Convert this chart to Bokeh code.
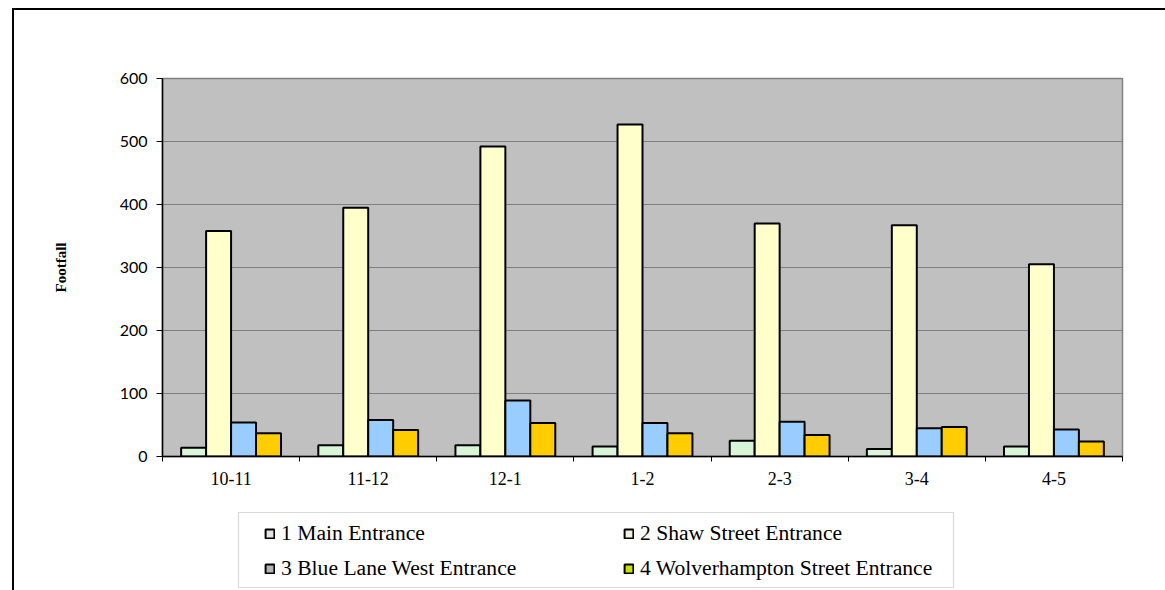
from bokeh.plotting import figure
from bokeh.layouts import column
from bokeh.models import FixedTicker, Legend, LegendItem, Range1d, BoxAnnotation
from bokeh.embed import file_html
from bokeh.resources import INLINE

periods = ["10-11", "11-12", "12-1", "1-2", "2-3", "3-4", "4-5"]
series_names = ["1 Main Entrance", "2 Shaw Street Entrance",
                "3 Blue Lane West Entrance", "4 Wolverhampton Street Entrance"]
main_entrance = [14, 18, 18, 16, 25, 12, 16]
shaw_street = [358, 395, 492, 527, 370, 367, 305]
blue_lane_west = [54, 58, 89, 53, 55, 45, 43]
wolverhampton_street = [37, 42, 53, 37, 34, 47, 24]
y_ticks = [0, 100, 200, 300, 400, 500, 600]

series = [main_entrance, shaw_street, blue_lane_west, wolverhampton_street]
colors = ["#d8f5d8", "#ffffcc", "#99ccff", "#ffcc00"]
legend_colors = ["#e4e4e4", "#f0f0dc", "#b4b4b4", "#c8e000"]

SERIF = "'Liberation Serif', 'Times New Roman', serif"
SANS = "Lato"
OX, OY = 14, 10  # offset of content inside the outer frame
W = 1165 - OX
H_MAIN = 505 - OY
H_LEG = 590 - 505
FRAME_L, FRAME_R = 162, 1122

p = figure(width=W, height=H_MAIN, output_backend="svg", toolbar_location=None,
           x_range=Range1d(0, len(periods)), y_range=Range1d(0, 600),
           min_border_left=FRAME_L - OX, min_border_right=1165 - FRAME_R,
           min_border_top=78 - OY, min_border_bottom=505 - 456)
p.background_fill_color = "#c0c0c0"
p.border_fill_color = "white"
p.outline_line_color = "#808080"
p.outline_line_width = 1.5

bw = 0.182
offsets = [-1.5 * bw, -0.5 * bw, 0.5 * bw, 1.5 * bw]
for vals, col, off in zip(series, colors, offsets):
    xs = [i + 0.5 + off for i in range(len(periods))]
    p.vbar(x=xs, top=vals, width=bw, bottom=0, fill_color=col,
           line_color="black", line_width=2)

p.xaxis.ticker = FixedTicker(ticks=[i + 0.5 for i in range(len(periods))],
                             minor_ticks=list(range(len(periods) + 1)))
p.xaxis.major_label_overrides = {i + 0.5: lab for i, lab in enumerate(periods)}
p.xaxis.major_tick_line_color = None
p.xaxis.minor_tick_line_color = "black"
p.xaxis.minor_tick_out = 5
p.xaxis.minor_tick_in = 0
p.xaxis.axis_line_color = "black"
p.xaxis.axis_line_width = 1.5
p.xaxis.major_label_text_font = SERIF
p.xaxis.major_label_text_font_size = "18px"
p.xaxis.major_label_text_color = "black"
p.xaxis.major_label_standoff = 9

p.yaxis.ticker = FixedTicker(ticks=y_ticks)
p.yaxis.minor_tick_line_color = None
p.yaxis.major_tick_out = 6
p.yaxis.major_tick_in = 0
p.yaxis.axis_line_color = "black"
p.yaxis.axis_line_width = 1.5
p.yaxis.major_label_text_font = SANS
p.yaxis.major_label_text_font_size = "16px"
p.yaxis.major_label_text_color = "black"
p.yaxis.major_label_standoff = 9
p.yaxis.axis_label = "Footfall"
p.yaxis.axis_label_text_font = SERIF
p.yaxis.axis_label_text_font_size = "15px"
p.yaxis.axis_label_text_font_style = "bold"
p.yaxis.axis_label_text_color = "black"
p.yaxis.axis_label_standoff = 48

p.xgrid.grid_line_color = None
p.ygrid.grid_line_color = "#808080"
p.ygrid.grid_line_width = 1.2

# legend figure: its frame is aligned with the chart frame, ranges in canvas px
q = figure(width=W, height=H_LEG, output_backend="svg", toolbar_location=None,
           x_range=Range1d(FRAME_L, FRAME_R), y_range=Range1d(0, H_LEG),
           x_axis_type=None, y_axis_type=None, min_border=0)
q.outline_line_color = None
q.background_fill_color = "white"
q.border_fill_color = "white"
q.grid.grid_line_color = None
q.add_layout(BoxAnnotation(left=238, right=953, bottom=3, top=78,
                           fill_color="white", fill_alpha=1,
                           line_color="#808080", line_width=1.2))
dummy = []
for lc in legend_colors:
    dummy.append(q.quad(left=[-20], right=[-10], bottom=[-20], top=[-10],
                        fill_color=lc, line_color="black", line_width=2))
items = [LegendItem(label=n, renderers=[d]) for n, d in zip(series_names, dummy)]
for idx, x0 in ((0, 264), (1, 623)):
    lg = Legend(items=[items[idx], items[idx + 2]], location=(x0 - FRAME_L, 9),
                label_text_font=SERIF, label_text_font_size="21.6px",
                label_text_color="black",
                glyph_width=11, glyph_height=11, label_standoff=6,
                spacing=9, padding=0, margin=0,
                border_line_color=None, background_fill_alpha=0,
                label_height=26)
    q.add_layout(lg, "center")

layout = column(p, q, spacing=0,
                styles={"margin-left": "12px", "margin-top": "8px",
                        "border-left": "2.5px solid black",
                        "border-top": "2.5px solid black"})

open("out.html", "w").write(file_html(layout, INLINE))
